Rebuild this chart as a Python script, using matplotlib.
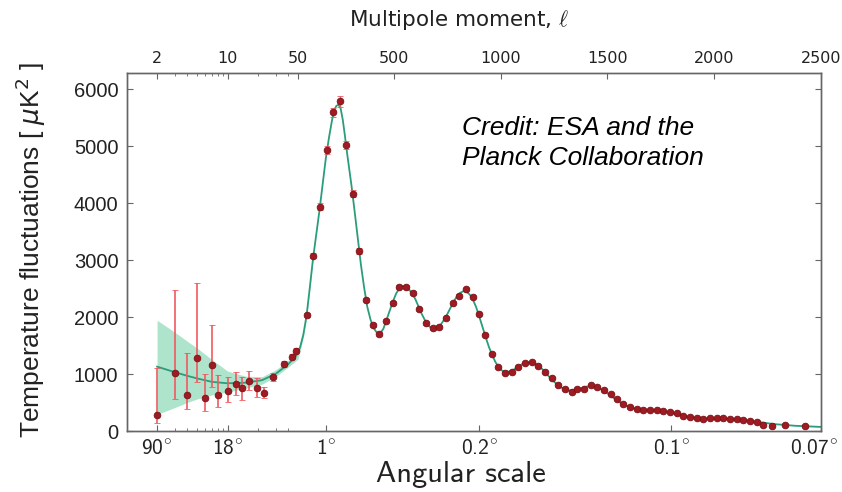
import numpy as np
import matplotlib.pyplot as plt
from matplotlib.transforms import ScaledTranslation

# low-l points (individual / log-binned multipoles), asymmetric error bars
lowl_ell = [2, 3, 4, 5, 6, 7, 8, 10, 12, 14, 16.5, 19.5, 23, 28, 36, 44, 48]
lowl_D = [289, 1021, 640, 1295, 593, 1167, 640, 716, 833, 758, 891, 758, 670, 961, 1179, 1312, 1418]
lowl_hi = [1120, 2482, 1382, 2600, 1009, 1868, 991, 961, 1049, 961, 1067, 933, 786, 1032, 1230, 1350, 1455]
lowl_lo = [150, 570, 395, 874, 365, 786, 430, 523, 640, 553, 728, 611, 582, 891, 1130, 1275, 1385]

# high-l binned points
highl_ell = [91, 122, 153, 185, 216, 247, 275, 306, 337, 369,
             400, 431, 463, 494, 525, 556, 588, 619, 650, 681,
             712, 744, 775, 806, 838, 869, 900, 927, 958, 989,
             1020, 1052, 1083, 1114, 1145, 1176, 1208, 1239, 1270, 1301,
             1332, 1359, 1391, 1422, 1453, 1484, 1516, 1547, 1575, 1606,
             1638, 1669, 1700, 1731, 1762, 1794, 1825, 1856, 1888, 1919,
             1950, 1981, 2013, 2044, 2075, 2106, 2137, 2169, 2200, 2231,
             2270, 2333, 2427]
highl_D = [2044, 3084, 3944, 4939, 5600, 5786, 5026, 4167, 3167, 2307,
           1868, 1711, 1944, 2260, 2540, 2530, 2425, 2144, 1898, 1811,
           1839, 1986, 2260, 2377, 2495, 2365, 2061, 1693, 1360, 1126,
           1021, 1049, 1126, 1196, 1225, 1149, 1049, 933, 816, 740,
           688, 746, 746, 816, 775, 728, 658, 565, 482, 425,
           389, 377, 377, 372, 360, 337, 319, 277, 254, 237,
           219, 232, 232, 232, 225, 214, 202, 184, 167, 119,
           102, 119, 96]
highl_err = [40, 50, 60, 70, 80, 90, 70, 60, 50, 40,
             35, 30, 30, 30, 30, 30, 30, 25, 25, 25,
             25, 25, 25, 25, 25, 25, 22, 20, 20, 18,
             18, 18, 18, 18, 18, 16, 16, 15, 15, 14,
             14, 14, 14, 14, 13, 13, 12, 12, 12, 12,
             12, 12, 12, 12, 12, 12, 12, 12, 12, 12,
             12, 13, 13, 13, 14, 14, 14, 15, 15, 15,
             16, 18, 20]

# best-fit model spectrum
model_ell = [2, 3, 4, 5, 7, 10, 15, 22, 30, 40, 48, 60, 75, 90, 105, 120, 135, 150,
             165, 180, 195, 210, 220, 230, 240, 250, 260, 270, 280, 290, 300, 315,
             330, 345, 360, 375, 390, 405, 420, 435, 450, 465, 480, 495, 510, 525,
             540, 555, 570, 585, 600, 615, 630, 645, 660, 675, 690, 705, 720, 735,
             750, 765, 780, 795, 810, 825, 840, 855, 870, 885, 900, 915, 930, 945,
             960, 975, 990, 1005, 1020, 1040, 1060, 1080, 1100, 1120, 1140, 1160,
             1180, 1200, 1220, 1240, 1260, 1280, 1300, 1320, 1340, 1360, 1380, 1400,
             1420, 1440, 1460, 1480, 1500, 1520, 1540, 1560, 1580, 1600, 1620, 1640,
             1670, 1700, 1730, 1760, 1790, 1820, 1850, 1880, 1910, 1940, 1970, 2000,
             2040, 2080, 2120, 2160, 2200, 2240, 2280, 2330, 2380, 2440, 2500]
model_D = [1137, 1040, 975, 930, 870, 845, 855, 900, 1010, 1180, 1330, 1480, 1700, 2030, 2515, 3020, 3444, 3860,
           4316, 4780, 5150, 5470, 5640, 5710, 5730, 5660, 5460, 5180, 4880, 4600, 4330, 3870,
           3390, 2920, 2520, 2180, 1960, 1810, 1730, 1720, 1800, 1960, 2120, 2280, 2420, 2510,
           2550, 2530, 2490, 2420, 2320, 2190, 2060, 1950, 1860, 1815, 1805, 1830, 1880, 1960,
           2060, 2170, 2280, 2370, 2430, 2460, 2450, 2400, 2310, 2180, 2010, 1830, 1650, 1480,
           1340, 1220, 1130, 1070, 1045, 1050, 1080, 1130, 1180, 1210, 1215, 1195,
           1145, 1075, 990, 910, 840, 780, 740, 720, 720, 735, 760, 785,
           795, 785, 760, 720, 670, 615, 560, 510, 468, 435, 410, 395,
           385, 378, 370, 355, 335, 310, 285, 262, 245, 232, 228, 228,
           226, 220, 208, 190, 170, 150, 130, 115, 100, 90, 80]

# cosmic variance band around the model
band_ell = [2, 3, 4, 5, 7, 10, 15, 22, 30, 40, 50, 60, 75, 90, 120]
band_hi = [1950, 1740, 1580, 1460, 1260, 1060, 970, 960, 1080, 1250, 1420, 1560, 1750, 2060, 3060]
band_lo = [300, 420, 510, 570, 640, 690, 760, 830, 960, 1130, 1270, 1420, 1650, 1995, 2985]

top_ticks = [2, 10, 50, 500, 1000, 1500, 2000, 2500]
deg_ticks = [2, 10, 180, 900, 1800, 2500]
deg_labels = ['90', '18', '1', '0.2', '0.1', '0.07']
minor_ticks = [3, 4, 5, 6, 7, 8, 9, 20, 30, 40]

# x axis: logarithmic up to l=50, linear above
L_SPLIT = 50.0
K_LOG = 472.6
U_SPLIT = K_LOG * np.log10(L_SPLIT)


def fwd(l):
    l = np.asarray(l, dtype=float)
    lg = K_LOG * np.log10(np.clip(l, 1e-3, None))
    return np.where(l <= L_SPLIT, lg, U_SPLIT + (l - L_SPLIT))


def inv(u):
    u = np.asarray(u, dtype=float)
    lg = 10 ** (np.clip(u, None, U_SPLIT) / K_LOG)
    return np.where(u <= U_SPLIT, lg, u - U_SPLIT + L_SPLIT)


spine_col = '#666666'
text_col = '#222222'

fig = plt.figure(figsize=(8.42, 4.92), dpi=100)
ax = fig.add_axes([0.1505, 0.123, 0.8242, 0.728])
ax.set_xscale('function', functions=(fwd, inv))
ax.set_xlim(1, 2500)
ax.set_ylim(0, 6280)

ax.fill_between(band_ell, band_lo, band_hi, color='#aee3cc', lw=0, zorder=1)
ax.plot(model_ell, model_D, color='#2a9d7a', lw=1.3, zorder=2)

lo_err = np.array(lowl_D) - np.array(lowl_lo)
hi_err = np.array(lowl_hi) - np.array(lowl_D)
ax.errorbar(lowl_ell, lowl_D, yerr=[lo_err, hi_err], fmt='o', ms=4.8,
            mfc='#a01a22', mec='#7a1016', mew=0.6, ecolor='#f05a62',
            elinewidth=1.2, capsize=2.5, capthick=1.0, zorder=3)
ax.errorbar(highl_ell, highl_D, yerr=highl_err, fmt='o', ms=4.8,
            mfc='#a01a22', mec='#7a1016', mew=0.6, ecolor='#f05a62',
            elinewidth=1.0, capsize=2.5, capthick=1.0, zorder=3)

for s in ax.spines.values():
    s.set_color(spine_col)
    s.set_linewidth(1.0)

ax.set_yticks(range(0, 7000, 1000))
ax.set_yticklabels([str(v) for v in range(0, 7000, 1000)],
                   family='Liberation Sans', fontsize=14.5, color=text_col)
ax.tick_params(axis='y', which='both', left=True, right=True, direction='in',
               length=4, width=0.8, color=spine_col, pad=6)

ax.set_xticks(deg_ticks)
ax.set_xticks(minor_ticks, minor=True)
ax.set_xticklabels([d + r'$^{\circ}$' for d in deg_labels], family='cmss10',
                   fontsize=15.5, color=text_col, math_fontfamily='cm')
ax.tick_params(axis='x', which='major', direction='in', length=4, width=0.8,
               color=spine_col, pad=6)
ax.tick_params(axis='x', which='minor', direction='in', length=2.5, width=0.6,
               color=spine_col)
# keep the last angle label inside the figure
last = ax.get_xticklabels()[-1]
last.set_transform(last.get_transform() +
                   ScaledTranslation(-5 / 72, 0, fig.dpi_scale_trans))

# multipole labels along the top
ax2 = ax.twiny()
ax2.set_xscale('function', functions=(fwd, inv))
ax2.set_xlim(ax.get_xlim())
ax2.set_xticks(top_ticks)
ax2.set_xticks(minor_ticks, minor=True)
ax2.set_xticklabels([str(t) for t in top_ticks], family='DejaVu Sans',
                    fontsize=11.5, color=text_col)
ax2.tick_params(axis='x', which='major', direction='in', length=4, width=0.8,
                color=spine_col, pad=5)
ax2.tick_params(axis='x', which='minor', direction='in', length=2.5, width=0.6,
                color=spine_col)
for s in ax2.spines.values():
    s.set_color(spine_col)
    s.set_linewidth(1.0)

fig.text(0.545, 0.959, r'Multipole moment, $\ell$', ha='center', va='center',
         family='DejaVu Sans', fontsize=15.5, color=text_col, math_fontfamily='cm')
fig.text(0.5475, 0.035, 'Angular scale', ha='center', va='center',
         family='cmss10', fontsize=22, color=text_col)
fig.text(0.036, 0.492, r'Temperature fluctuations [ $\mu$K$^2$ ]', rotation=90,
         ha='center', va='center', family='Liberation Sans', fontsize=19,
         color=text_col, math_fontfamily='dejavusans')

fig.text(0.5487, 0.740, 'Credit: ESA and the', ha='left', va='center',
         family='Liberation Sans', style='italic', fontsize=19, color='black')
fig.text(0.5487, 0.679, 'Planck Collaboration', ha='left', va='center',
         family='Liberation Sans', style='italic', fontsize=19, color='black')

fig.savefig('out.png', dpi=100)
